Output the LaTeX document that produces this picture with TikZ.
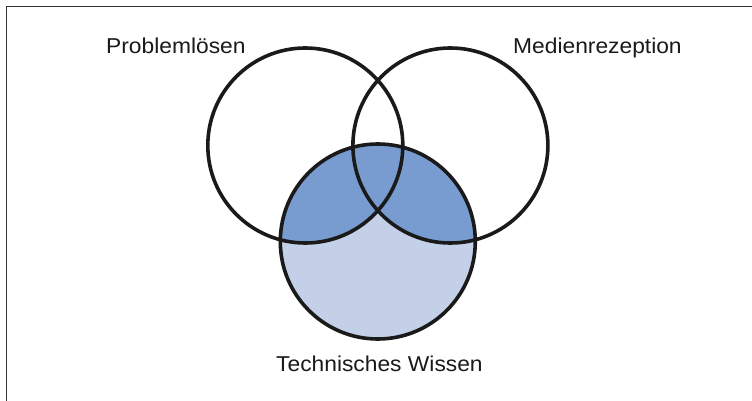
\documentclass[tikz,border=0pt]{standalone}
\usepackage{fontspec}
\setmainfont[FakeStretch=1.06]{Liberation Sans}
\definecolor{darkfill}{HTML}{789CD0}
\definecolor{lightfill}{HTML}{C3D0E8}
\definecolor{ringcol}{HTML}{1A1A1A}
\definecolor{framecol}{HTML}{333333}
\begin{document}
\begin{tikzpicture}[x=1pt,y=-1pt,
  ring/.style={draw=ringcol,line width=3.6pt},
  lbl/.style={inner sep=0pt,font=\fontsize{21.5}{24}\selectfont,text=ringcol}]
\useasboundingbox (0,0) rectangle (752,401);
\fill[white] (0,0) rectangle (752,401);
\draw[framecol,line width=1.6pt] (6.5,405) -- (6.5,6.5) -- (756,6.5);
\coordinate (cl) at (305.3,145.5);
\coordinate (cr) at (450.4,145.5);
\coordinate (cb) at (377.8,241.5);
\fill[lightfill] (cb) circle (97.5);
\begin{scope}
  \clip (cb) circle (97.5);
  \fill[darkfill] (cl) circle (97.5);
  \fill[darkfill] (cr) circle (97.5);
\end{scope}
\draw[ring] (cl) circle (97.5);
\draw[ring] (cr) circle (97.5);
\draw[ring] (cb) circle (97.5);
\node[lbl,anchor=base west] (p) at (106,53.3) {Problemlösen};
\node[lbl,anchor=base west] (m) at (513,53.3) {Medienrezeption};
\node[lbl,anchor=base west] (t) at (276,371.7) {Technisches Wissen};
\end{tikzpicture}
\end{document}
